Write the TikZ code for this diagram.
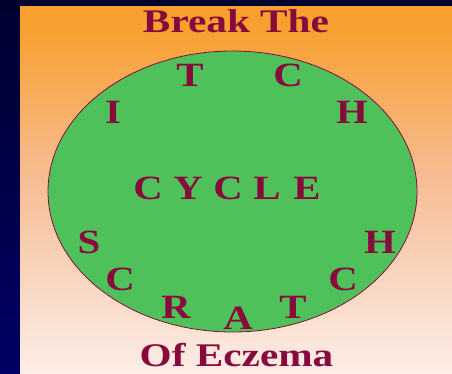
\documentclass[tikz,border=0pt]{standalone}
\usepackage{fontspec}
\setmainfont{Liberation Serif}
\definecolor{navytop}{HTML}{000014}
\definecolor{navybot}{HTML}{000080}
\definecolor{porange}{HTML}{F7A030}
\definecolor{pmid}{HTML}{F6BC92}
\definecolor{pwhite}{HTML}{FDF6F6}
\definecolor{leaf}{HTML}{4FC15A}
\definecolor{maroon}{HTML}{880A3C}
\pgfdeclareverticalshading{navyshade}{100bp}{color(0bp)=(navybot); color(100bp)=(navytop)}
\pgfdeclareverticalshading{panelshade}{100bp}{color(0bp)=(pwhite); color(20bp)=(pwhite); color(52bp)=(pmid); color(72bp)=(porange); color(100bp)=(porange)}
\tikzset{
  letter/.style={text=maroon, font=\bfseries\fontsize{34}{34}\selectfont, anchor=base, inner sep=0pt, xscale=1.2},
  title/.style={text=maroon, font=\bfseries\fontsize{33}{33}\selectfont, anchor=base, inner sep=0pt, xscale=1.25}
}
\begin{document}
\begin{tikzpicture}[x=1pt,y=-1pt]
\useasboundingbox (0,0) rectangle (452,373);
\shade[shading=navyshade] (0,0) rectangle (452,373);
\shade[shading=panelshade] (20,6) rectangle (452,373);
\node[title] (break) at (236,32) {Break The};
\node[title] (eczema) at (236.5,366.5) {Of Eczema};
\path[fill=leaf, draw=maroon, line width=0.8pt] (232.5,191.5) ellipse [x radius=184.5, y radius=140.5];
\node[letter] (t1) at (190,86) {T};
\node[letter] (c1) at (288,86) {C};
\node[letter] (i1) at (113,123) {I};
\node[letter] (h1) at (352,123) {H};
\node[letter] (cy1) at (148,199) {C};
\node[letter] (cy2) at (188,199) {Y};
\node[letter] (cy3) at (228,199) {C};
\node[letter] (cy4) at (267,199) {L};
\node[letter] (cy5) at (307,199) {E};
\node[letter] (s2) at (89,253) {S};
\node[letter] (h2) at (380,253) {H};
\node[letter] (c2) at (120,290) {C};
\node[letter] (c3) at (343,290) {C};
\node[letter] (r2) at (176,318) {R};
\node[letter] (t2) at (293,318) {T};
\node[letter] (a2) at (238,329) {A};
\end{tikzpicture}
\end{document}
